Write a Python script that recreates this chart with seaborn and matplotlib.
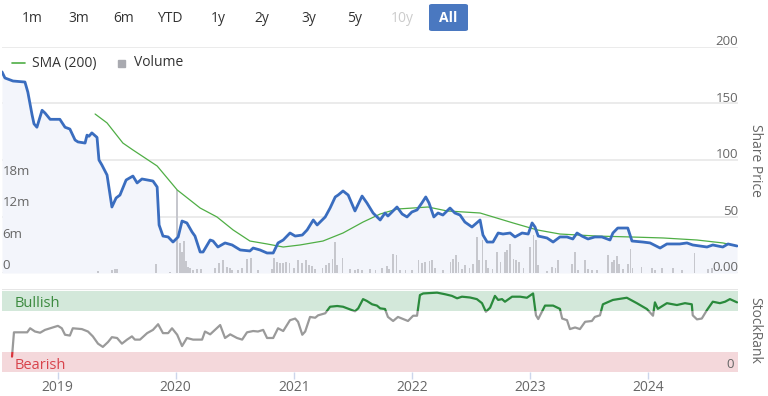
import pandas as pd
import numpy as np
import matplotlib
matplotlib.use("Agg")
import matplotlib.pyplot as plt
import matplotlib.dates as mdates
import matplotlib.transforms as mtransforms
from matplotlib.patches import Rectangle, FancyBboxPatch
from matplotlib.lines import Line2D
import seaborn as sns

# ---------------------------------------------------------------
# Data
# ---------------------------------------------------------------
price_dates = [
    "2018-07-13", "2018-07-22", "2018-08-16", "2018-09-22", "2018-10-01", "2018-10-14",
    "2018-10-20", "2018-10-29", "2018-11-14", "2018-11-23", "2018-12-09", "2019-01-08",
    "2019-01-24", "2019-02-08", "2019-02-24", "2019-03-05", "2019-03-27", "2019-04-02",
    "2019-04-08", "2019-04-17", "2019-05-03", "2019-05-09", "2019-05-18", "2019-06-03",
    "2019-06-18", "2019-07-01", "2019-07-13", "2019-08-01", "2019-08-22", "2019-09-04",
    "2019-09-19", "2019-10-23", "2019-11-05", "2019-11-11", "2019-11-23", "2019-12-09",
    "2019-12-24", "2020-01-09", "2020-01-21", "2020-02-05", "2020-02-21", "2020-03-01",
    "2020-03-17", "2020-03-26", "2020-04-17", "2020-04-26", "2020-05-11", "2020-06-02",
    "2020-06-24", "2020-07-19", "2020-08-18", "2020-08-28", "2020-09-18", "2020-10-10",
    "2020-10-29", "2020-11-13", "2020-11-29", "2020-12-20", "2021-01-05", "2021-01-27",
    "2021-02-11", "2021-03-02", "2021-03-14", "2021-04-08", "2021-04-23", "2021-05-09",
    "2021-05-18", "2021-06-02", "2021-06-18", "2021-07-09", "2021-07-31", "2021-08-15",
    "2021-09-03", "2021-09-25", "2021-10-10", "2021-10-19", "2021-11-16", "2021-12-02",
    "2021-12-17", "2022-01-01", "2022-01-17", "2022-02-01", "2022-02-13", "2022-02-23",
    "2022-03-10", "2022-03-23", "2022-04-07", "2022-04-29", "2022-05-14", "2022-05-30",
    "2022-06-14", "2022-07-06", "2022-07-31", "2022-08-09", "2022-08-22", "2022-09-09",
    "2022-09-25", "2022-10-10", "2022-11-01", "2022-11-16", "2022-12-08", "2022-12-27",
    "2023-01-08", "2023-01-17", "2023-01-27", "2023-02-23", "2023-03-14", "2023-04-04",
    "2023-04-26", "2023-05-14", "2023-05-27", "2023-06-11", "2023-06-30", "2023-07-21",
    "2023-08-12", "2023-09-06", "2023-09-15", "2023-09-30", "2023-10-31", "2023-11-13",
    "2023-12-17", "2024-01-08", "2024-02-08", "2024-02-29", "2024-04-09", "2024-05-01",
    "2024-05-19", "2024-07-02", "2024-07-20", "2024-08-20", "2024-09-05", "2024-10-03",
]
price_values = [
    178, 172.6, 169.9, 169, 160, 140, 132, 129, 144, 141.6, 136, 136,
    129, 127.4, 117.7, 116, 115, 122, 121, 124, 120, 100, 95.6, 86.7,
    58.4, 66.4, 69, 82.3, 85.8, 79.7, 83.2, 81.4, 76.1, 42.5, 32.7, 31.9,
    27.4, 31.9, 46, 44.3, 36.3, 32.7, 18.6, 18.6, 29.2, 28.3, 23, 26.6,
    24.8, 20.4, 19.5, 22.1, 20.4, 17.7, 17.7, 26.6, 29.2, 35.4, 32.7, 33.6,
    38.1, 46.9, 42.5, 49.6, 57.5, 67.3, 69, 72.6, 69, 54.9, 68.1, 62,
    53.1, 46.9, 53.1, 50.4, 58.4, 52.2, 49.6, 54, 55.8, 62, 67.3, 62,
    49.6, 53.1, 51.3, 57.5, 53.1, 51.3, 45.1, 40.7, 46.9, 33.6, 27.4, 27.4,
    35.4, 34.5, 35.4, 31.9, 35.4, 34.5, 44.3, 40.7, 32.7, 31, 27.4, 31.9,
    31.9, 30.1, 35.4, 32.7, 30.1, 31.9, 31.9, 29.2, 35.4, 39.8, 39.8, 28.3,
    27.4, 26.6, 22.1, 25.7, 25.7, 26.6, 24.8, 23, 24.8, 23, 25.7, 23.9,
]

sma_dates = [
    "2019-04-27", "2019-06-03", "2019-07-22", "2019-08-22", "2019-11-05", "2020-01-06",
    "2020-03-17", "2020-05-08", "2020-06-27", "2020-08-18", "2020-10-10", "2020-11-29",
    "2021-01-20", "2021-04-01", "2021-06-02", "2021-08-03", "2021-09-25", "2021-11-16",
    "2022-01-04", "2022-02-20", "2022-04-20", "2022-07-31", "2022-11-10", "2023-01-24",
    "2023-04-04", "2023-07-27", "2023-11-07", "2024-02-17", "2024-06-01", "2024-08-20",
    "2024-10-03",
]
sma_values = [
    140.7, 132.8, 115, 108.9, 94.7, 73.5, 57.5, 49.6, 38.1, 28.3, 25.7, 23,
    24.8, 28.3, 35.4, 45.1, 52.2, 56.6, 57.5, 58.4, 54.9, 53.1, 44.3, 38.1,
    34.5, 32.7, 31.9, 31, 29.2, 26.6, 23.9,
]

# weekly volume, millions of shares (only weeks with a visible bar)
volume_dates = [
    "2019-05-06", "2019-06-18", "2019-06-28", "2019-07-04", "2019-11-02", "2019-12-15",
    "2020-01-06", "2020-01-15", "2020-01-21", "2020-01-27", "2020-02-03", "2020-02-09",
    "2020-02-15", "2020-02-24", "2020-03-08", "2020-03-20", "2020-05-02", "2020-05-15",
    "2020-05-27", "2020-06-09", "2020-06-18", "2020-06-24", "2020-07-13", "2020-07-25",
    "2020-08-09", "2020-08-22", "2020-09-12", "2020-10-26", "2020-11-01", "2020-11-10",
    "2020-11-20", "2020-11-29", "2020-12-08", "2020-12-18", "2021-01-02", "2021-01-14",
    "2021-01-27", "2021-02-08", "2021-02-17", "2021-02-27", "2021-03-08", "2021-03-30",
    "2021-04-11", "2021-04-20", "2021-04-30", "2021-05-09", "2021-05-15", "2021-05-31",
    "2021-06-24", "2021-07-10", "2021-07-19", "2021-07-31", "2021-08-25", "2021-09-10",
    "2021-10-01", "2021-10-17", "2021-10-23", "2021-11-04", "2021-11-14", "2021-11-26",
    "2021-12-12", "2022-01-02", "2022-01-21", "2022-02-02", "2022-02-11", "2022-02-24",
    "2022-03-05", "2022-03-14", "2022-04-08", "2022-04-30", "2022-05-09", "2022-05-18",
    "2022-05-25", "2022-06-06", "2022-06-15", "2022-06-28", "2022-07-10", "2022-07-22",
    "2022-07-28", "2022-08-07", "2022-08-19", "2022-08-25", "2022-09-07", "2022-09-22",
    "2022-10-02", "2022-10-17", "2022-10-23", "2022-11-01", "2022-11-11", "2022-11-20",
    "2022-11-29", "2022-12-12", "2023-01-02", "2023-01-12", "2023-01-21", "2023-01-27",
    "2023-02-24", "2023-03-11", "2023-03-21", "2023-03-30", "2023-05-11", "2023-05-21",
    "2023-05-30", "2023-06-21", "2023-06-30", "2023-07-12", "2023-07-28", "2023-08-31",
    "2023-09-12", "2023-09-18", "2023-09-27", "2023-10-03", "2023-10-16", "2023-10-31",
    "2023-11-09", "2023-11-15", "2023-12-13", "2024-01-13", "2024-01-23", "2024-02-14",
    "2024-03-19", "2024-04-16", "2024-05-25", "2024-07-05", "2024-07-17",
]
volume_values = [
    0.4, 0.6, 0.8, 0.8, 1.7, 0.2, 15.8, 5.7, 4.0, 6.1, 2.3, 1.1,
    0.9, 0.6, 0.8, 0.8, 1.0, 1.9, 2.5, 1.1, 1.0, 0.6, 0.6, 1.0,
    2.7, 2.9, 0.6, 0.8, 2.9, 2.1, 1.9, 1.9, 2.1, 1.9, 1.0, 2.5,
    1.9, 2.5, 1.5, 1.3, 0.8, 1.0, 1.5, 1.9, 2.7, 5.9, 1.5, 2.9,
    0.8, 0.6, 0.8, 0.6, 0.8, 0.6, 1.0, 1.3, 0.8, 3.6, 3.4, 0.6,
    0.6, 0.6, 2.5, 1.9, 2.1, 2.3, 2.5, 1.0, 0.6, 2.1, 2.7, 3.4,
    2.1, 0.8, 1.5, 1.0, 1.7, 6.9, 2.5, 6.3, 2.5, 1.0, 0.8, 4.0,
    2.1, 4.0, 4.4, 5.5, 2.7, 2.5, 2.1, 1.0, 5.0, 7.2, 6.3, 1.5,
    0.4, 1.1, 1.0, 2.5, 1.7, 4.0, 0.6, 2.5, 0.8, 0.6, 0.6, 3.4,
    2.1, 2.5, 3.2, 1.7, 0.8, 1.7, 4.6, 1.0, 1.1, 1.0, 0.6, 1.0,
    1.0, 0.6, 3.8, 0.8, 1.0,
]

rank_dates = [
    "2018-08-13", "2018-08-19", "2018-09-29", "2018-10-08", "2018-10-23", "2018-11-08",
    "2018-11-23", "2018-12-09", "2019-01-02", "2019-01-14", "2019-01-24", "2019-02-08",
    "2019-02-17", "2019-03-17", "2019-04-05", "2019-04-20", "2019-05-06", "2019-05-21",
    "2019-06-06", "2019-06-18", "2019-07-04", "2019-07-19", "2019-08-04", "2019-08-19",
    "2019-08-28", "2019-09-13", "2019-10-05", "2019-10-23", "2019-11-08", "2019-11-23",
    "2019-12-09", "2019-12-21", "2020-01-06", "2020-01-21", "2020-02-05", "2020-02-24",
    "2020-03-23", "2020-04-01", "2020-04-17", "2020-05-18", "2020-06-02", "2020-06-18",
    "2020-07-09", "2020-07-25", "2020-08-09", "2020-08-28", "2020-09-12", "2020-09-28",
    "2020-10-10", "2020-10-29", "2020-11-13", "2020-11-29", "2020-12-20", "2021-01-05",
    "2021-01-14", "2021-01-27", "2021-02-05", "2021-02-20", "2021-03-08", "2021-03-17",
    "2021-04-08", "2021-04-23", "2021-05-15", "2021-06-02", "2021-07-09", "2021-07-19",
    "2021-08-03", "2021-08-15", "2021-08-31", "2021-09-15", "2021-09-25", "2021-10-10",
    "2021-10-19", "2021-11-04", "2021-11-19", "2021-12-05", "2021-12-20", "2022-01-05",
    "2022-01-17", "2022-01-26", "2022-02-05", "2022-03-20", "2022-04-14", "2022-05-05",
    "2022-05-21", "2022-06-05", "2022-06-30", "2022-07-21", "2022-08-06", "2022-08-18",
    "2022-08-31", "2022-09-15", "2022-09-25", "2022-10-07", "2022-10-16", "2022-11-07",
    "2022-12-02", "2022-12-23", "2023-01-11", "2023-01-20", "2023-01-27", "2023-02-17",
    "2023-03-14", "2023-04-04", "2023-04-11", "2023-04-26", "2023-05-05", "2023-05-21",
    "2023-06-05", "2023-06-21", "2023-07-12", "2023-07-21", "2023-08-06", "2023-08-15",
    "2023-09-15", "2023-10-28", "2023-11-28", "2023-12-29", "2024-01-17", "2024-01-23",
    "2024-02-01", "2024-02-29", "2024-03-31", "2024-04-25", "2024-05-16", "2024-05-19",
    "2024-06-01", "2024-06-16", "2024-07-02", "2024-07-20", "2024-08-11", "2024-08-27",
    "2024-09-11", "2024-10-03",
]
rank_values = [
    19, 49, 49, 54, 50, 48.5, 52, 54, 57, 54, 46, 45,
    54, 53, 50, 44, 35, 31, 37, 43, 42, 35, 40, 44,
    40, 40, 48, 52, 59, 48, 48, 54, 46, 32, 42, 40,
    40, 50, 46.5, 58, 42, 46.5, 42, 40, 49, 50.6, 50, 52,
    42, 42, 54, 50.6, 64, 66, 62, 46, 50, 68, 67, 70,
    72.5, 80.6, 81.5, 80.6, 75, 78.6, 90, 87.7, 83.6, 82, 78.6, 77.8,
    68, 63, 68, 65.4, 63, 69.5, 69.5, 95, 97, 98, 96, 94,
    91, 93, 92, 90, 85, 74.4, 79.4, 94, 89, 90, 86.8, 93,
    93, 91.7, 97, 70, 65.4, 82, 82, 78, 66, 64, 53, 55,
    53, 62, 63, 68, 70, 83.6, 89, 91.7, 85, 77.8, 69.5, 86,
    78, 85, 82.7, 85, 83.6, 70, 65, 66, 76.5, 86.8, 85, 86.8,
    90, 86,
]

price_ticks = [0, 50, 100, 150, 200]
price_tick_labels = ["0.00", "50", "100", "150", "200"]
volume_ticks = [0, 6, 12, 18]
volume_tick_labels = ["0", "6m", "12m", "18m"]
range_buttons = ["1m", "3m", "6m", "YTD", "1y", "2y", "3y", "5y", "10y", "All"]

# ---------------------------------------------------------------
# Style
# ---------------------------------------------------------------
sns.set_theme(style="white")
plt.rcParams["font.family"] = ["Open Sans", "DejaVu Sans"]

BLUE = "#3a6dbf"
GREEN_SMA = "#4fae45"
VOL_GREY = "#c6c7cd"
GRID = "#e6e6e6"
LABEL = "#666666"

W, H = 768, 396
fig = plt.figure(figsize=(W / 100, H / 100), dpi=100)


def rect(x0, y0, x1, y1):
    # pixel box (top-left origin) -> figure fraction rect
    return [x0 / W, 1 - y1 / H, (x1 - x0) / W, (y1 - y0) / H]


def fx(px):
    return px / W


def fy(py):
    return 1 - py / H


price_df = pd.DataFrame({"date": pd.to_datetime(price_dates), "price": price_values})
sma_df = pd.DataFrame({"date": pd.to_datetime(sma_dates), "sma": sma_values})
vol_df = pd.DataFrame({"date": pd.to_datetime(volume_dates), "volume": volume_values})
rank_df = pd.DataFrame({"date": pd.to_datetime(rank_dates), "rank": rank_values})

xlim = (pd.Timestamp("2018-07-13"), pd.Timestamp("2024-10-06"))

# ---------------------------------------------------------------
# Price panel: fill + grid (back), volume (middle), lines (front)
# ---------------------------------------------------------------
main_rect = rect(2, 47, 738, 273)
ax_p = fig.add_axes(main_rect)
ax_v = fig.add_axes(main_rect, sharex=ax_p)
ax_l = fig.add_axes(main_rect, sharex=ax_p, sharey=ax_p)

ax_p.fill_between(price_df["date"], price_df["price"], 0, color="#f3f5fb", lw=0)
for t in price_ticks:
    ax_p.axhline(t, color=GRID, lw=1.1, zorder=0)
ax_p.set_ylim(0, 200)
ax_p.set_xlim(*xlim)
for s in ax_p.spines.values():
    s.set_visible(False)
ax_p.tick_params(axis="both", bottom=False, left=False, labelbottom=False, labelleft=False)
trans = mtransforms.blended_transform_factory(ax_p.transAxes, ax_p.transData)
for t, lab in zip(price_ticks, price_tick_labels):
    ax_p.text(1.0, t + 1.6, lab, transform=trans, ha="right", va="baseline",
              fontsize=9.5, color=LABEL)

ax_v.bar(vol_df["date"], vol_df["volume"], width=5, color=VOL_GREY, lw=0)
ax_v.set_ylim(0, 43)
ax_v.axis("off")
ax_v.patch.set_visible(False)
vtrans = mtransforms.blended_transform_factory(ax_v.transAxes, ax_v.transData)
for t, lab in zip(volume_ticks, volume_tick_labels):
    ax_v.text(0.001, t + 0.7, lab, transform=vtrans, ha="left", va="baseline",
              fontsize=9.5, color=LABEL)

sns.lineplot(data=sma_df, x="date", y="sma", ax=ax_l, color=GREEN_SMA, lw=0.9,
             estimator=None, sort=False)
sns.lineplot(data=price_df, x="date", y="price", ax=ax_l, color=BLUE, lw=2.0,
             estimator=None, sort=False)
ax_l.axis("off")
ax_l.patch.set_visible(False)
ax_l.set_xlim(*xlim)

fig.text(fx(755), fy(160), "Share Price", rotation=-90, ha="center", va="center",
         fontsize=10, color=LABEL)

# ---------------------------------------------------------------
# StockRank panel
# ---------------------------------------------------------------
ax_r = fig.add_axes(rect(2, 289, 738, 372), sharex=ax_p)
ax_r.set_ylim(0, 102.5)
ax_r.axhspan(75, 100, color="#d3e8da", lw=0, zorder=0)
ax_r.axhspan(0, 25, color="#f4d8db", lw=0, zorder=0)
ax_r.axhline(102.5, color=GRID, lw=1.5)

rtrans = mtransforms.blended_transform_factory(ax_r.transAxes, ax_r.transData)
for lo, hi, col in [(25, 75, "#9a9a9a"), (75, 200, "#2a8a3c"), (-10, 25, "#d8343c")]:
    sns.lineplot(data=rank_df, x="date", y="rank", ax=ax_r, color=col, lw=1.6,
                 estimator=None, sort=False)
    ax_r.lines[-1].set_clip_path(Rectangle((0, lo), 1, hi - lo, transform=rtrans))

ax_r.text(0.017, 85, "Bullish", transform=rtrans, ha="left", va="center",
          fontsize=10.5, color="#3b8a3e")
ax_r.text(0.017, 8, "Bearish", transform=rtrans, ha="left", va="center",
          fontsize=10.5, color="#d8434b")
ax_r.text(0.995, 9, "0", transform=rtrans, ha="right", va="center",
          fontsize=9.5, color=LABEL)

for s in ax_r.spines.values():
    s.set_visible(False)
ax_r.set_yticks([])
ax_r.set_ylabel("")
ax_r.set_xlabel("")
ax_r.xaxis.set_major_locator(mdates.YearLocator())
ax_r.xaxis.set_major_formatter(mdates.DateFormatter("%Y"))
ax_r.tick_params(axis="x", bottom=True, length=5, width=1, color="#ccd6eb",
                 labelsize=10, labelcolor=LABEL, pad=1, direction="out")
ax_r.set_xlim(*xlim)

fig.text(fx(755), fy(330), "StockRank", rotation=-90, ha="center", va="center",
         fontsize=10, color=LABEL)

# ---------------------------------------------------------------
# Range selector + legend
# ---------------------------------------------------------------
button_x = [32, 79, 124, 170, 218, 262, 309, 355, 402, 448]
for lab, bx in zip(range_buttons, button_x):
    if lab == "All":
        fig.patches.append(FancyBboxPatch((fx(429), fy(31)), fx(39), 27 / H,
                                          boxstyle="round,pad=0,rounding_size=0.004",
                                          transform=fig.transFigure, fc="#4a78c0",
                                          ec="none"))
        fig.text(fx(bx), fy(18), lab, ha="center", va="center", fontsize=10,
                 color="white", weight="bold")
    else:
        fig.text(fx(bx), fy(18), lab, ha="center", va="center", fontsize=10,
                 color="#cccccc" if lab == "10y" else "#333333")

fig.add_artist(Line2D([fx(12), fx(25)], [fy(63), fy(63)], color=GREEN_SMA, lw=1.2,
                      transform=fig.transFigure))
fig.text(fx(32), fy(63), "SMA (200)", ha="left", va="center", fontsize=10, color="#333333")
fig.add_artist(Rectangle((fx(118), fy(67)), 7 / W, 7 / H, color="#a9aab0",
                         transform=fig.transFigure))
fig.text(fx(134), fy(63), "Volume", ha="left", va="center", fontsize=10, color="#333333")

fig.savefig("out.png", dpi=100)
